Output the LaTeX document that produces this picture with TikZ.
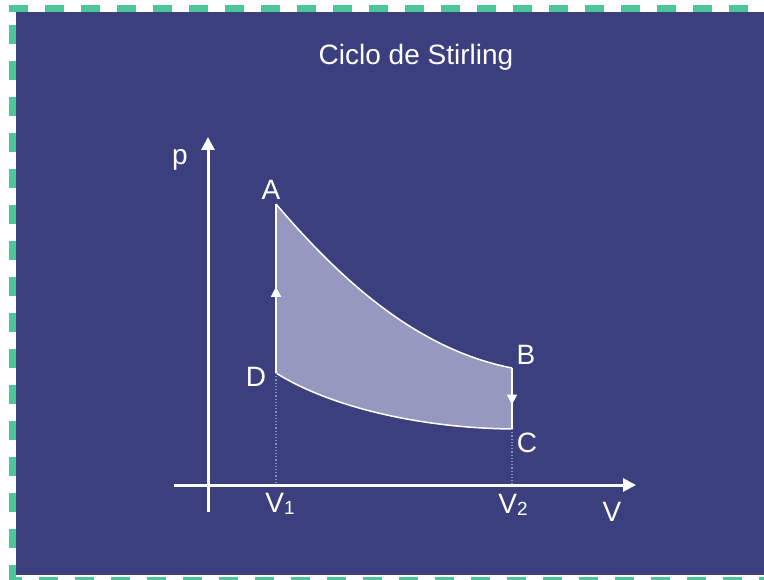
\documentclass[tikz,border=0pt]{standalone}
\usepackage{fontspec}
\setmainfont{Liberation Sans}
\usetikzlibrary{arrows.meta,decorations.markings}
\definecolor{panel}{RGB}{60,63,126}
\definecolor{dashgreen}{RGB}{77,198,154}
\definecolor{cyclefill}{RGB}{150,152,192}
\definecolor{dotcol}{RGB}{140,143,195}
\begin{document}
\begin{tikzpicture}[x=1pt,y=-1pt,
  lbl/.style={text=white,font=\fontsize{28}{32}\selectfont,inner sep=0pt,anchor=base},
  axis/.style={white,line width=3pt,-{Triangle[width=13pt,length=13pt]}},
  edge/.style={white,line width=1.5pt},
  guide/.style={dotcol,line width=1.2pt,dotted},
  border/.style={dashgreen,line width=7pt,dash pattern=on 19pt off 17pt},
  midarrow/.style={postaction={decorate},decoration={markings,mark=at position #1 with {\arrow{Triangle[width=10pt,length=10pt]}}}}]
\useasboundingbox (0,0) rectangle (764,580);
\clip (0,0) rectangle (764,580);
\fill[white] (0,0) rectangle (764,580);
\fill[panel] (16,12) rectangle (770,575);
% dashed frame
\draw[border] (9,8.5) -- (780,8.5);
\draw[border] (12.5,25) -- (12.5,590);
\draw[border,dash phase=6pt] (9,580.5) -- (780,580.5);
% title
\node[lbl] (title) at (416,65) {Ciclo de Stirling};
% points
\coordinate (A) at (276,204);
\coordinate (B) at (512,368);
\coordinate (C) at (512,429);
\coordinate (D) at (276,373);
\coordinate (O) at (208,485);
\coordinate (xs) at (174,485);
\coordinate (xe) at (636,485);
\coordinate (ys) at (208,512);
\coordinate (ye) at (208,137);
% cycle area
\fill[cyclefill] (A) .. controls (345,285) and (420,350) .. (B) -- (C)
  .. controls (420,428) and (330,407) .. (D) -- cycle;
\draw[edge] (A) .. controls (345,285) and (420,350) .. (B);
\draw[edge] (D) .. controls (330,407) and (420,428) .. (C);
\draw[edge,midarrow=0.51] (D) -- (A);
\draw[edge,midarrow=0.6] (B) -- (C);
% guides
\draw[guide] (D) -- (D |- O);
\draw[guide] (C) -- (C |- O);
% axes
\draw[axis] (xs) -- (xe);
\draw[axis] (ys) -- (ye);
% labels
\node[lbl] (lp) at (180,165) {p};
\node[lbl] (lV) at (612,521) {V};
\node[lbl] (lA) at (271,200) {A};
\node[lbl] (lB) at (526,365) {B};
\node[lbl] (lC) at (527,452) {C};
\node[lbl] (lD) at (256,387) {D};
\node[lbl] (lV1) at (280,512) {V\raisebox{-2pt}{\fontsize{19}{20}\selectfont 1}};
\node[lbl] (lV2) at (513,513) {V\raisebox{-2pt}{\fontsize{19}{20}\selectfont 2}};
\end{tikzpicture}
\end{document}
